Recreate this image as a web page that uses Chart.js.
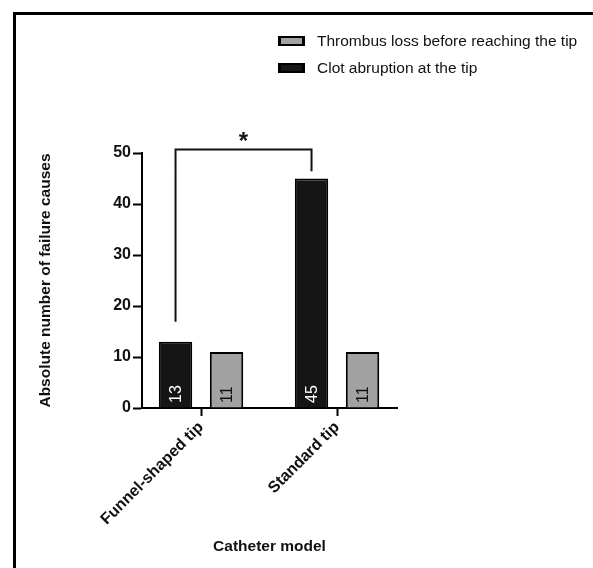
<!DOCTYPE html>
<html>
<head>
<meta charset="utf-8">
<script src="https://cdn.jsdelivr.net/npm/chart.js@4.4.1/dist/chart.umd.min.js"></script>
<style>
html, body { margin: 0; padding: 0; background: #fff; }
#wrap { position: relative; width: 593px; height: 568px; overflow: hidden; }
#frame { position: absolute; left: 13px; top: 12px; right: -10px; bottom: -10px;
         border-left: 3px solid #000; border-top: 3px solid #000; }
#legend { position: absolute; left: 278px; top: 27px;
          font: 15.5px Arial, "Liberation Sans", sans-serif; color: #111; }
#legend .row { height: 27px; display: flex; align-items: center; }
#legend .box { width: 27px; height: 10px; box-sizing: border-box; border: 3px solid #000;
               border-top-width: 2.5px; border-bottom-width: 2.5px; margin-right: 12px; }
canvas { position: absolute; left: 0; top: 0; }
</style>
</head>
<body>
<div id="wrap">
  <div id="frame"></div>
  <canvas id="chart" width="593" height="568"></canvas>
  <div id="legend"></div>
</div>
<script>
var categories = ["Funnel-shaped tip", "Standard tip"];
var seriesNames = ["Clot abruption at the tip", "Thrombus loss before reaching the tip"];
var clotAbruption = [13, 45];
var thrombusLoss = [11, 11];
var yTicks = [0, 10, 20, 30, 40, 50];
// significance bracket: left leg bottom, top, right leg bottom
var bracketLevels = [16.9, 50.7, 46.4];
var starLevel = 50.8;

var FONT = 'Arial, "Liberation Sans", sans-serif';

function points(arr) {
    return arr.map(function (v, i) { return {x: i, y: v}; });
}

// numbers written up the inside of each bar
var barLabels = {
    id: 'barLabels',
    afterDatasetsDraw: function (chart) {
        var ctx = chart.ctx;
        var base = chart.scales.y.getPixelForValue(0);
        chart.data.datasets.forEach(function (ds, di) {
            chart.getDatasetMeta(di).data.forEach(function (bar, i) {
                ctx.save();
                ctx.translate(bar.x, base - 5);
                ctx.rotate(-Math.PI / 2);
                ctx.font = '16px ' + FONT;
                ctx.fillStyle = ds.labelColor;
                ctx.textAlign = 'left';
                ctx.textBaseline = 'middle';
                ctx.fillText(String(ds.data[i].y), 0, 1);
                ctx.restore();
            });
        });
    }
};

// bracket + star between the two black bars
var bracket = {
    id: 'bracket',
    afterDatasetsDraw: function (chart) {
        var ctx = chart.ctx;
        var y = chart.scales.y;
        var meta = chart.getDatasetMeta(0);
        var x1 = meta.data[0].x, x2 = meta.data[1].x;
        ctx.save();
        ctx.strokeStyle = '#111';
        ctx.lineWidth = 2;
        ctx.beginPath();
        ctx.moveTo(x1, y.getPixelForValue(bracketLevels[0]));
        ctx.lineTo(x1, y.getPixelForValue(bracketLevels[1]));
        ctx.lineTo(x2, y.getPixelForValue(bracketLevels[1]));
        ctx.lineTo(x2, y.getPixelForValue(bracketLevels[2]));
        ctx.stroke();
        ctx.font = 'bold 24px ' + FONT;
        ctx.fillStyle = '#111';
        ctx.textAlign = 'center';
        ctx.textBaseline = 'alphabetic';
        ctx.fillText('*', (x1 + x2) / 2, y.getPixelForValue(starLevel));
        ctx.restore();
    }
};

var chart = new Chart(document.getElementById('chart'), {
    type: 'bar',
    data: {
        datasets: [
            {label: seriesNames[0], data: points(clotAbruption), backgroundColor: '#151515',
             borderColor: '#000', borderWidth: 2, labelColor: '#fff'},
            {label: seriesNames[1], data: points(thrombusLoss), backgroundColor: '#a2a2a2',
             borderColor: '#000', borderWidth: 2, labelColor: '#111'}
        ]
    },
    options: {
        responsive: false,
        animation: false,
        categoryPercentage: 0.75,
        barPercentage: 0.655,
        layout: {padding: {left: 32, right: 196, top: 153, bottom: 8}},
        plugins: {legend: {display: false}, tooltip: {enabled: false}},
        scales: {
            x: {
                type: 'linear',
                offset: false,
                min: -0.434,
                max: 1.441,
                afterBuildTicks: function (s) {
                    s.ticks = categories.map(function (c, i) { return {value: i}; });
                },
                afterFit: function (s) { s.height = 152; },
                ticks: {
                    callback: function (v) { return categories[v]; },
                    minRotation: 45, maxRotation: 45, autoSkip: false,
                    font: {family: FONT, size: 16, weight: 'bold'}, color: '#111', padding: 2
                },
                grid: {offset: false, drawOnChartArea: false, tickLength: 8, tickWidth: 2, tickColor: '#000'},
                border: {color: '#000', width: 2},
                title: {display: true, text: 'Catheter model', color: '#111',
                        font: {family: FONT, size: 15.5, weight: 'bold'}}
            },
            y: {
                min: yTicks[0],
                max: yTicks[yTicks.length - 1],
                afterFit: function (s) { s.width = 110; },
                ticks: {stepSize: yTicks[1] - yTicks[0], color: '#111', padding: 2,
                        font: {family: FONT, size: 16, weight: 'bold'}},
                grid: {drawOnChartArea: false, tickLength: 9, tickWidth: 2, tickColor: '#000'},
                border: {color: '#000', width: 2},
                title: {display: true, text: 'Absolute number of failure causes', color: '#111',
                        font: {family: FONT, size: 15.5, weight: 'bold'}}
            }
        }
    },
    plugins: [barLabels, bracket]
});

// legend, listed in reverse dataset order like the original
var legend = document.getElementById('legend');
chart.data.datasets.slice().reverse().forEach(function (ds) {
    var row = document.createElement('div');
    row.className = 'row';
    var box = document.createElement('span');
    box.className = 'box';
    box.style.background = ds.backgroundColor;
    var txt = document.createElement('span');
    txt.textContent = ds.label;
    row.appendChild(box);
    row.appendChild(txt);
    legend.appendChild(row);
});
</script>
</body>
</html>
